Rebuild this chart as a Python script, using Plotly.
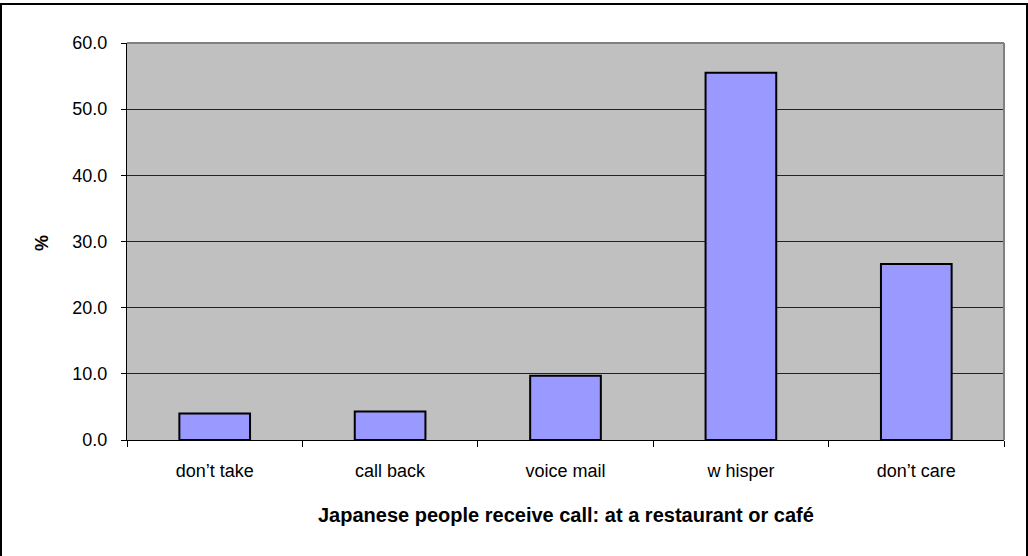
import plotly.graph_objects as go

# Survey responses (%), one bar per reaction
categories = ["don\u2019t take", "call back", "voice mail", "w hisper", "don\u2019t care"]
percent = [4.0, 4.3, 9.7, 55.5, 26.6]
y_ticks = [0, 10, 20, 30, 40, 50, 60]
y_tick_labels = ["0.0", "10.0", "20.0", "30.0", "40.0", "50.0", "60.0"]
x_title = "Japanese people receive call: at a restaurant or café"
y_title = "%"

FONT = "Liberation Sans, Arial, sans-serif"

fig = go.Figure(
    go.Bar(
        x=categories,
        y=percent,
        marker=dict(color="#9999FF", line=dict(color="black", width=2)),
        hoverinfo="x+y",
    )
)

# plot-area geometry in pixels
W, H = 1028, 556
L, R, T, B = 127, 24, 43, 116
pw, ph = W - L - R, H - T - B

def px_x(px):
    return (px - L) / pw

def px_y(py):
    return (H - B - py) / ph

fig.update_layout(
    width=W,
    height=H,
    margin=dict(l=L, r=R, t=T, b=B, pad=0),
    paper_bgcolor="white",
    plot_bgcolor="#C0C0C0",
    bargap=0.597,
    showlegend=False,
    font=dict(family=FONT, size=18, color="black"),
    xaxis=dict(
        type="category",
        tickson="boundaries",
        ticks="outside",
        ticklen=6,
        tickcolor="black",
        showline=True,
        linecolor="black",
        linewidth=1,
        showgrid=False,
        tickfont=dict(family=FONT, size=18, color="black"),
        ticklabelstandoff=14,
        fixedrange=True,
    ),
    yaxis=dict(
        range=[0, 60],
        tickvals=y_ticks,
        ticktext=y_tick_labels,
        ticks="outside",
        ticklen=5,
        tickcolor="black",
        showline=True,
        linecolor="black",
        linewidth=1,
        showgrid=True,
        gridcolor="#222222",
        gridwidth=1,
        zeroline=False,
        tickfont=dict(family=FONT, size=18, color="black"),
        ticklabelstandoff=10,
        fixedrange=True,
    ),
    shapes=[
        # outer chart frame
        dict(type="rect", xref="paper", yref="paper",
             x0=px_x(1), x1=px_x(1027), y0=px_y(566), y1=px_y(4),
             line=dict(color="black", width=2), layer="below"),
        # gray top and right edges of the plot area
        dict(type="line", xref="paper", yref="paper", x0=0, x1=1, y0=1, y1=1,
             line=dict(color="#808080", width=2)),
        dict(type="line", xref="paper", yref="paper", x0=1, x1=1, y0=0, y1=1,
             line=dict(color="#808080", width=2)),
    ],
    annotations=[
        dict(text=f"<b>{x_title}</b>", xref="paper", yref="paper",
             x=0.5, y=px_y(515), xanchor="center", yanchor="middle",
             showarrow=False, font=dict(family=FONT, size=20, color="black")),
        dict(text=f"<b>{y_title}</b>", xref="paper", yref="paper",
             x=px_x(42), y=px_y(243), xanchor="center", yanchor="middle",
             textangle=-90, showarrow=False,
             font=dict(family=FONT, size=18, color="black")),
    ],
)

fig.write_html("out.html")
